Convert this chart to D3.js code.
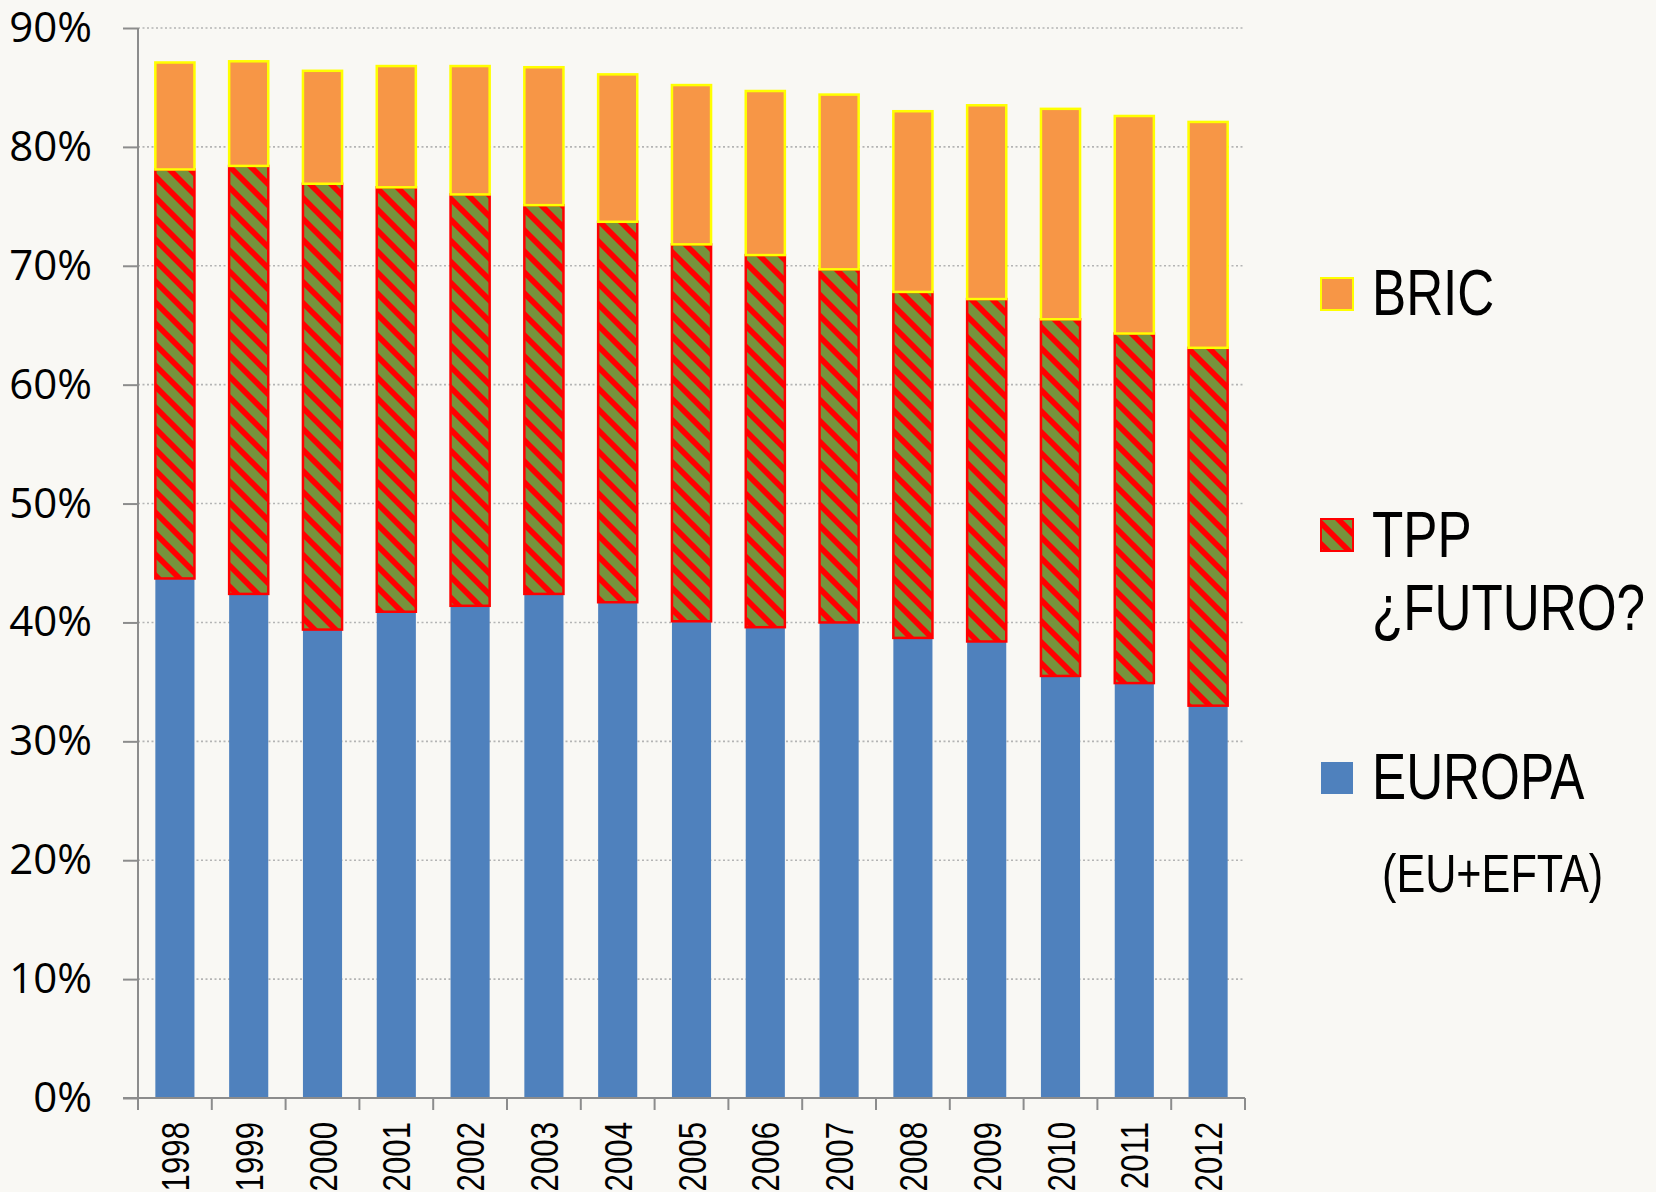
<!DOCTYPE html>
<html>
<head>
<meta charset="utf-8">
<script src="https://cdn.jsdelivr.net/npm/d3@7"></script>
<style>
  html, body { margin: 0; padding: 0; background: #f9f8f4; }
  svg { display: block; }
</style>
</head>
<body>
<div id="chart"></div>
<script>
// years on the x axis
var years = ["1998", "1999", "2000", "2001", "2002", "2003", "2004", "2005",
             "2006", "2007", "2008", "2009", "2010", "2011", "2012"];

// shares (%), bottom to top
var europa = [43.7, 42.4, 39.4, 40.9, 41.4, 42.4, 41.7, 40.1, 39.6, 40.0, 38.7, 38.4, 35.5, 34.9, 33.0];
var tpp    = [34.4, 36.0, 37.5, 35.7, 34.6, 32.7, 32.0, 31.7, 31.3, 29.7, 29.1, 28.8, 30.0, 29.4, 30.1];
var bric   = [9.0, 8.8, 9.5, 10.2, 10.8, 11.6, 12.4, 13.4, 13.8, 14.7, 15.2, 16.3, 17.7, 18.3, 19.0];

var yTicks = [0, 10, 20, 30, 40, 50, 60, 70, 80, 90];

var seriesKeys = ["europa", "tpp", "bric"];

var rows = years.map(function(y, i) {
    return {year: y, europa: europa[i], tpp: tpp[i], bric: bric[i]};
});

var W = 1656,
    H = 1192,
    plotLeft = 138,
    plotRight = 1245,
    plotTop = 28,
    plotBottom = 1098;

var svg = d3.select("#chart").append("svg")
    .attr("width", W)
    .attr("height", H);

// red diagonal stripes on green, like the excel pattern fill
var defs = svg.append("defs");
var pat = defs.append("pattern")
    .attr("id", "stripes")
    .attr("patternUnits", "userSpaceOnUse")
    .attr("width", 21)
    .attr("height", 21);
pat.append("rect")
    .attr("width", 21)
    .attr("height", 21)
    .style("fill", "#77933c");
pat.append("path")
    .attr("d", "M-6,-6L27,27M-6,15L6,27M15,-6L27,6")
    .style("stroke", "#ff0000")
    .style("stroke-width", 5.7);

var x = d3.scaleBand()
    .domain(years)
    .range([plotLeft, plotRight])
    .paddingInner(0.47)
    .paddingOuter(0.235);

var y = d3.scaleLinear()
    .domain([0, 90])
    .range([plotBottom, plotTop]);

// dotted gridlines
svg.append("g")
    .selectAll("line")
    .data(yTicks.filter(function(d) { return d > 0; }))
    .join("line")
    .attr("x1", plotLeft)
    .attr("x2", plotRight)
    .attr("y1", function(d) { return y(d); })
    .attr("y2", function(d) { return y(d); })
    .style("stroke", "#b4b4b4")
    .style("stroke-width", 1.6)
    .style("stroke-dasharray", "2,2.5");

var stack = d3.stack().keys(seriesKeys);
var layers = stack(rows);

var fills = {europa: "#4f81bd", tpp: "url(#stripes)", bric: "#f79646"};
var strokes = {europa: "none", tpp: "#ff0000", bric: "#ffff00"};

svg.append("g")
    .selectAll("g")
    .data(layers)
    .join("g")
    .style("fill", function(d) { return fills[d.key]; })
    .style("stroke", function(d) { return strokes[d.key]; })
    .style("stroke-width", 2.5)
    .selectAll("rect")
    .data(function(d) { return d; })
    .join("rect")
    .attr("x", function(d) { return x(d.data.year); })
    .attr("width", x.bandwidth())
    .attr("y", function(d) { return y(d[1]); })
    .attr("height", function(d) { return y(d[0]) - y(d[1]); });

// y axis
var yAxis = svg.append("g")
    .attr("transform", "translate(" + plotLeft + ",0)")
    .call(d3.axisLeft(y).tickValues(yTicks).tickSize(15).tickPadding(31)
        .tickFormat(function(d) { return d + "%"; }));
yAxis.select(".domain").remove();
yAxis.append("line")
    .attr("y1", plotTop)
    .attr("y2", plotBottom)
    .style("stroke", "#8c8c8c")
    .style("stroke-width", 2);
yAxis.selectAll(".tick line")
    .style("stroke", "#8c8c8c")
    .style("stroke-width", 2);
yAxis.selectAll("text")
    .style("font-family", "'Open Sans', sans-serif")
    .style("font-size", "42px")
    .style("fill", "#000");

// x axis, ticks sit between the bars
var xAxis = svg.append("g")
    .attr("transform", "translate(0," + plotBottom + ")");
xAxis.append("line")
    .attr("x1", plotLeft - 15)
    .attr("x2", plotRight)
    .style("stroke", "#8c8c8c")
    .style("stroke-width", 2);
var step = x.step();
xAxis.selectAll("line.tk")
    .data(d3.range(years.length + 1))
    .join("line")
    .attr("class", "tk")
    .attr("x1", function(i) { return plotLeft + i * step; })
    .attr("x2", function(i) { return plotLeft + i * step; })
    .attr("y1", 0)
    .attr("y2", 12)
    .style("stroke", "#8c8c8c")
    .style("stroke-width", 2);
xAxis.selectAll("text")
    .data(years)
    .join("text")
    .attr("transform", function(d) {
        return "translate(" + (x(d) + x.bandwidth() / 2) + ",24) rotate(-90) scale(0.8,1)";
    })
    .attr("dy", "0.36em")
    .attr("text-anchor", "end")
    .style("font-family", "'Liberation Sans', Arial, sans-serif")
    .style("font-size", "39px")
    .text(function(d) { return d; });

// legend
var legend = [
    {key: "bric", sq: 278, lines: [{t: "BRIC", y: 315, size: 64, dx: 0}]},
    {key: "tpp", sq: 519, lines: [{t: "TPP", y: 557, size: 64, dx: 0},
                                   {t: "¿FUTURO?", y: 630, size: 64, dx: 0}]},
    {key: "europa", sq: 762, lines: [{t: "EUROPA", y: 799, size: 64, dx: 0},
                                      {t: "(EU+EFTA)", y: 892, size: 54, dx: 10}]}
];

var lg = svg.append("g");
legend.forEach(function(item) {
    lg.append("rect")
        .attr("x", 1321)
        .attr("y", item.sq)
        .attr("width", 32)
        .attr("height", 32)
        .style("fill", fills[item.key])
        .style("stroke", strokes[item.key])
        .style("stroke-width", 2);
    item.lines.forEach(function(l) {
        lg.append("text")
            .attr("transform", "translate(" + (1372 + l.dx) + "," + l.y + ") scale(0.8,1)")
            .style("font-family", "'Liberation Sans', Arial, sans-serif")
            .style("font-size", l.size + "px")
            .style("fill", "#000")
            .text(l.t);
    });
});
</script>
</body>
</html>
